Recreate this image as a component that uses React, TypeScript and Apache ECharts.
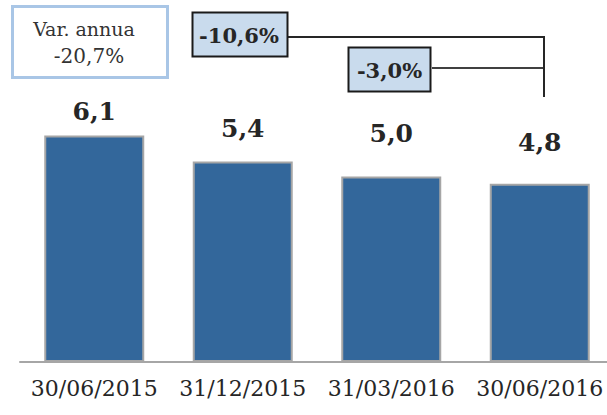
import React, { useEffect, useRef } from "react";
import * as echarts from "echarts";

const categories = ["30/06/2015", "31/12/2015", "31/03/2016", "30/06/2016"];
const values = [6.1, 5.4, 5.0, 4.8];
const annualLabel = "Var. annua";
const annualChange = "-20,7%";
const changeLong = "-10,6%";
const changeShort = "-3,0%";

// label gap above each bar (layout only, as in the reference)
const labelGaps = [12, 21, 30, 29];

const fmt = (v: number) => v.toFixed(1).replace(".", ",");

export default function App() {
  const ref = useRef<HTMLDivElement>(null);
  useEffect(() => {
    if (!ref.current) return;
    const chart = echarts.init(ref.current, null, { renderer: "svg" });
    const serif = "DejaVu Serif";
    chart.setOption({
      animation: false,
      grid: { left: 20, right: -7, top: 65, bottom: 53, outerBoundsMode: "none", containLabel: false },
      xAxis: {
        type: "category",
        data: categories,
        axisLine: { lineStyle: { color: "#a6a6a6", width: 2 } },
        axisTick: { show: false },
        axisLabel: { color: "#262626", fontFamily: serif, fontSize: 22, margin: 15, interval: 0 },
      },
      yAxis: { type: "value", min: 0, max: 8, show: false, splitLine: { show: false } },
      series: [
        {
          type: "bar",
          data: values.map((v, i) => ({ value: v, label: { distance: labelGaps[i] } })),
          barWidth: 100,
          itemStyle: { color: "#33679b", borderColor: "#a6a6a6", borderWidth: 2 },
          label: {
            show: true,
            position: "top",
            distance: 12,
            formatter: (p: any) => fmt(p.value),
            fontFamily: serif,
            fontWeight: "bold",
            fontSize: 25,
            color: "#262626",
          },
        },
      ],
      graphic: [
        {
          type: "rect",
          shape: { x: 12.5, y: 6.5, width: 155, height: 71 },
          style: { fill: "#ffffff", stroke: "#a9c6e6", lineWidth: 3 },
        },
        {
          type: "text",
          x: 84,
          y: 29,
          style: { text: annualLabel, fontFamily: serif, fontSize: 19, fill: "#333333", align: "center", verticalAlign: "middle" },
        },
        {
          type: "text",
          x: 89,
          y: 56,
          style: { text: annualChange, fontFamily: serif, fontSize: 20, fill: "#333333", align: "center", verticalAlign: "middle" },
        },
        {
          type: "polyline",
          shape: { points: [[288, 37], [544, 37], [544, 97]] },
          style: { stroke: "#262626", lineWidth: 2, fill: "none" },
        },
        {
          type: "rect",
          shape: { x: 192.5, y: 12.5, width: 95, height: 44 },
          style: { fill: "#c9dbed", stroke: "#1a1a1a", lineWidth: 2 },
        },
        {
          type: "text",
          x: 239,
          y: 35,
          style: { text: changeLong, fontFamily: serif, fontWeight: "bold", fontSize: 21, fill: "#262626", align: "center", verticalAlign: "middle" },
        },
        {
          type: "line",
          shape: { x1: 432, y1: 68, x2: 543, y2: 68 },
          style: { stroke: "#404040", lineWidth: 2 },
        },
        {
          type: "rect",
          shape: { x: 348.5, y: 47.5, width: 82, height: 44 },
          style: { fill: "#c9dbed", stroke: "#1a1a1a", lineWidth: 2 },
        },
        {
          type: "text",
          x: 389.5,
          y: 70,
          style: { text: changeShort, fontFamily: serif, fontWeight: "bold", fontSize: 21, fill: "#262626", align: "center", verticalAlign: "middle" },
        },
      ],
    });
    return () => chart.dispose();
  }, []);
  return <div ref={ref} style={{ position: "absolute", left: 0, top: 0, width: 607, height: 415 }} />;
}
